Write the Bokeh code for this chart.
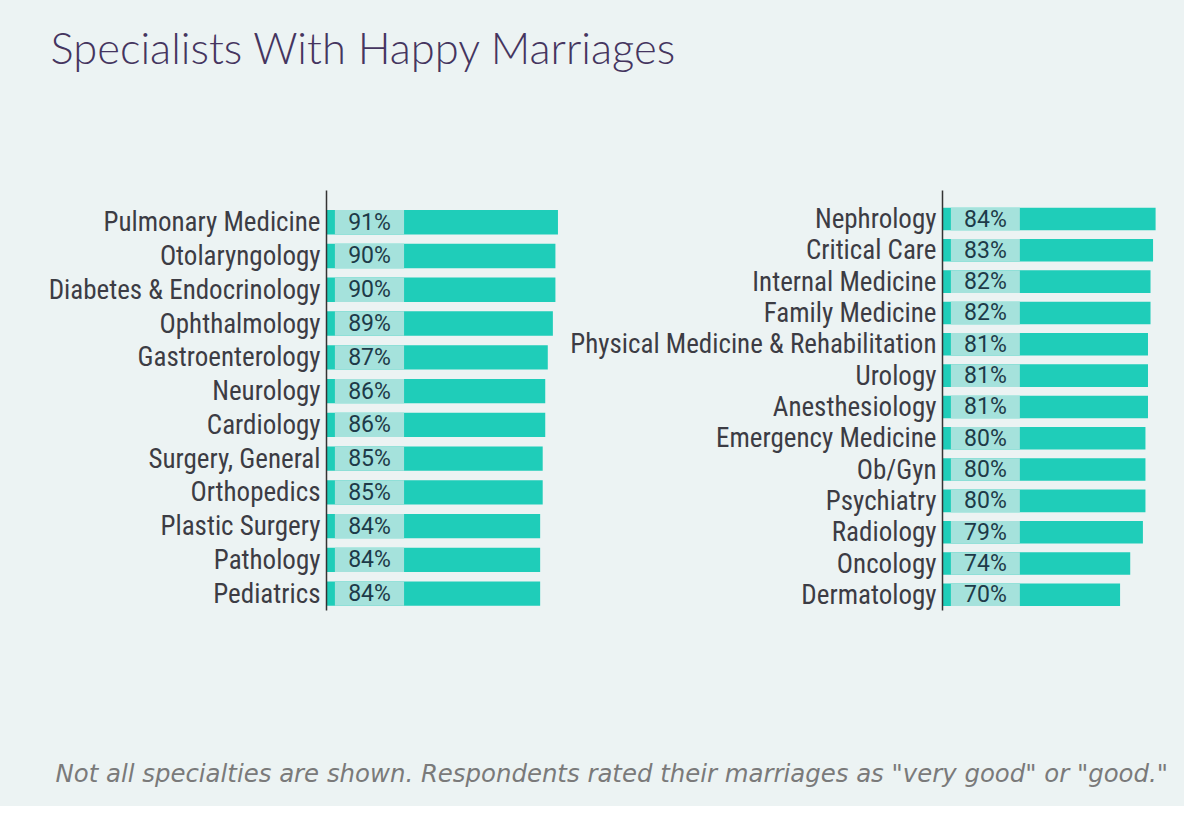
from bokeh.plotting import figure
from bokeh.layouts import column, row
from bokeh.models import Range1d, Label, ColumnDataSource, FixedTicker
from bokeh.embed import file_html
from bokeh.resources import INLINE
from bokeh.core.properties import value

# ---------------- data ----------------
title_text = "Specialists With Happy Marriages"
note_text = 'Not all specialties are shown. Respondents rated their marriages as "very good" or "good."'

left_specialties = [
    "Pulmonary Medicine", "Otolaryngology", "Diabetes & Endocrinology", "Ophthalmology",
    "Gastroenterology", "Neurology", "Cardiology", "Surgery, General", "Orthopedics",
    "Plastic Surgery", "Pathology", "Pediatrics",
]
left_values = [91, 90, 90, 89, 87, 86, 86, 85, 85, 84, 84, 84]

right_specialties = [
    "Nephrology", "Critical Care", "Internal Medicine", "Family Medicine",
    "Physical Medicine & Rehabilitation", "Urology", "Anesthesiology",
    "Emergency Medicine", "Ob/Gyn", "Psychiatry", "Radiology", "Oncology", "Dermatology",
]
right_values = [84, 83, 82, 82, 81, 81, 81, 80, 80, 80, 79, 74, 70]

# ---------------- style ----------------
BG = "#ecf3f3"
TEAL = "#1fcdb9"
LIGHT = "#a5e2dc"
LABEL_FONT = "Roboto Condensed, Liberation Sans Narrow, DejaVu Sans Condensed, Roboto"
PCT_FONT = "Roboto"
HEADER_H = 185
PANEL_H = 465
FOOTER_H = 156
FRAME_TOP = 5


def panel(cats, vals, width, border_left, border_right, xmax, frame_h, top_pad):
    n = len(cats)
    idx = list(range(n))
    src = ColumnDataSource(dict(y=idx, v=vals, lab=[f"{v}%" for v in vals]))
    p = figure(
        width=width, height=PANEL_H, title=None,
        x_range=Range1d(0, xmax), y_range=Range1d(n - 0.5, -top_pad),
        output_backend="svg", toolbar_location=None,
        min_border_left=border_left, min_border_right=border_right,
        min_border_top=FRAME_TOP, min_border_bottom=PANEL_H - FRAME_TOP - frame_h,
    )
    p.hbar(y="y", left=0, right="v", height=0.72, source=src,
           fill_color=TEAL, line_color=None)
    p.hbar(y="y", left=3.3, right=30.5, height=0.72, source=src,
           fill_color=LIGHT, line_color=None)
    p.text(x=16.9, y="y", text="lab", source=src, text_align="center",
           text_baseline="middle", text_font=value(PCT_FONT),
           text_font_size="23px", text_color="#1d3a48")
    p.xaxis.visible = False
    p.yaxis.ticker = FixedTicker(ticks=idx)
    p.yaxis.major_label_overrides = {i: c for i, c in enumerate(cats)}
    p.yaxis.major_tick_line_color = None
    p.yaxis.major_tick_out = 0
    p.yaxis.major_tick_in = 0
    p.yaxis.minor_tick_line_color = None
    p.yaxis.axis_line_color = "#333333"
    p.yaxis.axis_line_width = 1.5
    p.yaxis.major_label_standoff = 6
    p.yaxis.major_label_text_font = LABEL_FONT
    p.yaxis.major_label_text_font_size = "27px"
    p.yaxis.major_label_text_color = "#3c3c44"
    p.grid.visible = False
    p.outline_line_color = None
    p.background_fill_color = BG
    p.border_fill_color = BG
    return p


# left frame starts at x=326, right frame at x=942 (2.54 px per percentage point)
left = panel(left_specialties, left_values, width=562, border_left=326,
             border_right=2, xmax=92, frame_h=420, top_pad=0.94)
right = panel(right_specialties, right_values, width=622, border_left=380,
              border_right=1, xmax=95, frame_h=455, top_pad=0.91)


def text_fig(height):
    p = figure(width=1184, height=height, title=None,
               x_range=Range1d(0, 1184), y_range=Range1d(height, 0),
               output_backend="svg", toolbar_location=None,
               min_border=0)
    p.xaxis.visible = False
    p.yaxis.visible = False
    p.grid.visible = False
    p.outline_line_color = None
    p.background_fill_color = BG
    p.border_fill_color = BG
    return p


header = text_fig(HEADER_H)
header.add_layout(Label(x=50, y=46, text=title_text, text_font="Lato Light, Lato",
                        text_font_size="43.5px", text_color="#45355f",
                        text_baseline="alphabetic"))

footer = text_fig(FOOTER_H)
footer.add_layout(Label(x=55, y=123, text=note_text, text_font="DejaVu Sans",
                        text_font_style="italic", text_font_size="24.4px",
                        text_color="#7a7a7a", text_baseline="alphabetic"))

bg_style = {"background-color": BG}
layout = column(header, row(left, right, spacing=0, styles=bg_style), footer,
                spacing=0, styles=bg_style)

open("out.html", "w").write(file_html(layout, INLINE))
